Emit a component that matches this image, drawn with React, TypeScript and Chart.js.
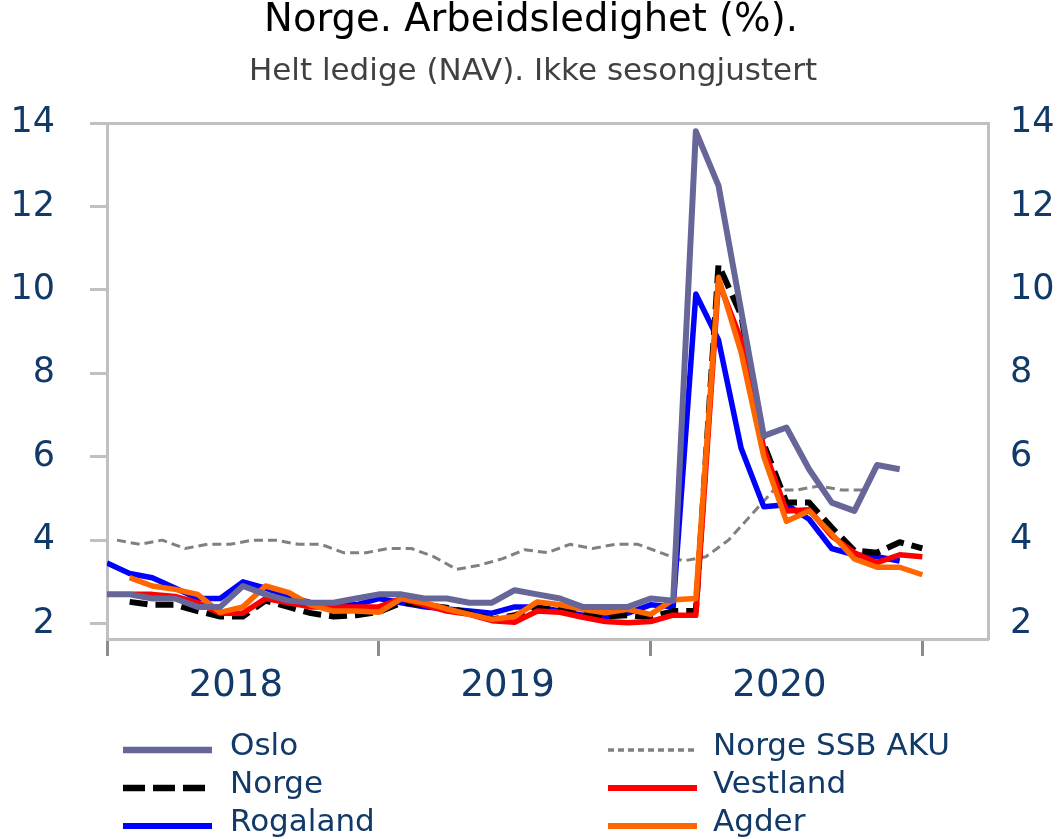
import React, { useEffect, useRef } from 'react';
import { Chart, registerables } from 'chart.js';

Chart.register(...registerables);

// ---------- texts ----------
const titleText = 'Norge. Arbeidsledighet (%).';
const subtitleText = 'Helt ledige (NAV). Ikke sesongjustert';

// ---------- axes ----------
const yearLabels = ['2018', '2019', '2020'];
const yearBoundaries = [0, 12, 24, 36]; // month index (0 = start of Jan 2018)
const yTicks = [2, 4, 6, 8, 10, 12, 14];
const yMin = 1.63;
const yMax = 14;
const xMin = 0;
const xMax = 38.9;

// ---------- series (monthly values) ----------
const osloStart = 0;
const oslo = [
  2.7, 2.7, 2.6, 2.6, 2.4, 2.4, 2.9, 2.7, 2.55, 2.5, 2.5, 2.6,
  2.7, 2.7, 2.6, 2.6, 2.5, 2.5, 2.8, 2.7, 2.6, 2.4, 2.4, 2.4,
  2.6, 2.55, 13.8, 12.5, 9.5, 6.5, 6.7, 5.7, 4.9, 4.7, 5.8, 5.7,
];

const rogalandStart = 0;
const rogaland = [
  3.45, 3.2, 3.1, 2.85, 2.6, 2.6, 3.0, 2.85, 2.65, 2.5, 2.45, 2.45,
  2.6, 2.5, 2.4, 2.35, 2.3, 2.25, 2.4, 2.4, 2.3, 2.2, 2.15, 2.25,
  2.45, 2.4, 9.9, 8.8, 6.2, 4.8, 4.85, 4.5, 3.8, 3.65, 3.6, 3.5,
];

const norgeStart = 1;
const norge = [
  2.52, 2.45, 2.45, 2.3, 2.17, 2.17, 2.55, 2.4, 2.25, 2.17, 2.2, 2.28,
  2.5, 2.45, 2.38, 2.25, 2.1, 2.2, 2.36, 2.34, 2.22, 2.17, 2.2, 2.15,
  2.3, 2.3, 10.6, 9.4, 6.3, 4.9, 4.9, 4.3, 3.75, 3.7, 3.95, 3.8,
];

const vestlandStart = 1;
const vestland = [
  2.7, 2.7, 2.65, 2.5, 2.25, 2.25, 2.6, 2.5, 2.4, 2.4, 2.4, 2.4,
  2.6, 2.45, 2.3, 2.22, 2.07, 2.03, 2.3, 2.27, 2.15, 2.05, 2.02, 2.05,
  2.2, 2.2, 10.2, 8.8, 6.2, 4.7, 4.73, 4.1, 3.7, 3.46, 3.65, 3.6,
];

const agderStart = 1;
const agder = [
  3.1, 2.9, 2.82, 2.7, 2.27, 2.4, 2.9, 2.75, 2.45, 2.3, 2.3, 2.27,
  2.6, 2.5, 2.35, 2.22, 2.1, 2.17, 2.52, 2.45, 2.34, 2.26, 2.34, 2.22,
  2.57, 2.6, 10.3, 8.5, 6.0, 4.45, 4.7, 4.15, 3.55, 3.35, 3.35, 3.17,
];

const akuStart = 0.44;
const aku = [
  4.0, 3.9, 4.0, 3.8, 3.9, 3.9, 4.0, 4.0, 3.9, 3.9, 3.7, 3.7,
  3.8, 3.8, 3.6, 3.3, 3.4, 3.55, 3.77, 3.7, 3.9, 3.8, 3.9, 3.9,
  3.7, 3.5, 3.6, 4.0, 4.6, 5.2, 5.2, 5.3, 5.2, 5.2,
];

const legendColumns = [
  ['Oslo', 'Norge', 'Rogaland'],
  ['Norge SSB AKU', 'Vestland', 'Agder'],
];

// ---------- styles ----------
const NAVY = '#123a68';
const FRAME = '#c0c0c0';
const FONT = '"DejaVu Sans", sans-serif';

const toPoints = (start: number, values: number[]) =>
  values.map((y, i) => ({ x: start + i, y }));

const yearMidpoints = yearBoundaries.slice(0, -1).map((b, i) => (b + yearBoundaries[i + 1]) / 2);
const xTickValues = [...yearBoundaries, ...yearMidpoints].sort((a, b) => a - b);

const baseLine = {
  pointRadius: 0,
  pointHoverRadius: 0,
  tension: 0,
  fill: false,
  borderJoinStyle: 'round' as const,
  borderCapStyle: 'butt' as const,
};

const datasets: any[] = [
  { ...baseLine, label: 'Oslo', data: toPoints(osloStart, oslo), borderColor: '#666699', borderWidth: 6, order: 0 },
  { ...baseLine, label: 'Norge', data: toPoints(norgeStart, norge), borderColor: '#000000', borderWidth: 6, borderDash: [18, 8], order: 3 },
  { ...baseLine, label: 'Rogaland', data: toPoints(rogalandStart, rogaland), borderColor: '#0000FF', borderWidth: 5.5, order: 4 },
  { ...baseLine, label: 'Norge SSB AKU', data: toPoints(akuStart, aku), borderColor: '#808080', borderWidth: 3, borderDash: [9, 5], order: 5 },
  { ...baseLine, label: 'Vestland', data: toPoints(vestlandStart, vestland), borderColor: '#FF0000', borderWidth: 5.5, order: 2 },
  { ...baseLine, label: 'Agder', data: toPoints(agderStart, agder), borderColor: '#FF6600', borderWidth: 5.5, order: 1 },
];

const textPlugin = {
  id: 'textPlugin',
  afterDraw(chart: any) {
    const ctx = chart.ctx as CanvasRenderingContext2D;
    ctx.save();
    ctx.textAlign = 'center';
    ctx.textBaseline = 'middle';
    ctx.fillStyle = '#000000';
    ctx.font = `38.5px ${FONT}`;
    ctx.fillText(titleText, 531, 21);
    ctx.fillStyle = '#404040';
    ctx.font = `31px ${FONT}`;
    ctx.fillText(subtitleText, 533, 72);

    // legend (column-major, 2 columns x 3 rows)
    const colSampleX = [123, 608];
    const colTextX = [230, 713];
    const rowY = [747, 785, 823];
    const sampleLen = 89;
    ctx.font = `31px ${FONT}`;
    ctx.textAlign = 'left';
    legendColumns.forEach((col, ci) => {
      col.forEach((label, ri) => {
        const ds = chart.data.datasets.find((d: any) => d.label === label);
        if (!ds) return;
        const y = rowY[ri];
        ctx.save();
        ctx.strokeStyle = ds.borderColor;
        ctx.lineWidth = ds.borderWidth + 0.5;
        ctx.lineCap = 'butt';
        ctx.setLineDash(label === 'Norge SSB AKU' ? [6, 4] : label === 'Norge' ? [22, 8] : []);
        ctx.beginPath();
        ctx.moveTo(colSampleX[ci], y + 3);
        ctx.lineTo(colSampleX[ci] + sampleLen, y + 3);
        ctx.stroke();
        ctx.restore();
        ctx.fillStyle = NAVY;
        ctx.fillText(label, colTextX[ci], y);
      });
    });
    ctx.restore();
  },
};

export default function App() {
  const ref = useRef<HTMLCanvasElement>(null);

  useEffect(() => {
    const canvas = ref.current;
    if (!canvas) return;
    const chart = new Chart(canvas, {
      type: 'line',
      data: { datasets },
      options: {
        animation: false,
        responsive: false,
        maintainAspectRatio: false,
        devicePixelRatio: 1,
        layout: { padding: { top: 123, left: 0, right: 0, bottom: 0 } },
        plugins: {
          legend: { display: false },
          tooltip: { enabled: false },
          title: { display: false },
        },
        scales: {
          x: {
            type: 'linear',
            min: xMin,
            max: xMax,
            afterBuildTicks: (s: any) => {
              s.ticks = xTickValues.map((v) => ({ value: v }));
            },
            afterFit: (s: any) => {
              s.height = 200;
            },
            grid: {
              display: true,
              drawOnChartArea: false,
              drawTicks: true,
              tickLength: 17,
              tickWidth: 3,
              tickColor: (c: any) =>
                c.tick && yearBoundaries.includes(c.tick.value) ? '#8c8c8c' : 'rgba(0,0,0,0)',
            },
            border: { display: true, color: FRAME, width: 3 },
            ticks: {
              autoSkip: false,
              maxRotation: 0,
              minRotation: 0,
              padding: 8,
              labelOffset: -7,
              color: NAVY,
              font: { family: FONT, size: 37 },
              callback: (v: any) => {
                const i = yearMidpoints.indexOf(Number(v));
                return i >= 0 ? yearLabels[i] : '';
              },
            },
          },
          y: {
            type: 'linear',
            position: 'left',
            min: yMin,
            max: yMax,
            afterBuildTicks: (s: any) => {
              s.ticks = yTicks.map((v) => ({ value: v }));
            },
            afterFit: (s: any) => {
              s.width = 107;
            },
            grid: {
              display: true,
              drawOnChartArea: true,
              color: (c: any) => (c.tick && c.tick.value === yMax ? FRAME : 'rgba(0,0,0,0)'),
              lineWidth: 3,
              drawTicks: true,
              tickLength: 17,
              tickWidth: 3,
              tickColor: FRAME,
            },
            border: { display: true, color: FRAME, width: 3 },
            ticks: {
              padding: 35,
              color: NAVY,
              font: { family: FONT, size: 35 },
            },
          },
          y2: {
            type: 'linear',
            position: 'right',
            min: yMin,
            max: yMax,
            afterBuildTicks: (s: any) => {
              s.ticks = yTicks.map((v) => ({ value: v }));
            },
            afterFit: (s: any) => {
              s.width = 70;
            },
            grid: { display: true, drawOnChartArea: false, drawTicks: false },
            border: { display: true, color: FRAME, width: 3 },
            ticks: {
              padding: 22,
              color: NAVY,
              font: { family: FONT, size: 35 },
            },
          },
        },
      },
      plugins: [textPlugin],
    } as any);
    return () => chart.destroy();
  }, []);

  return (
    <div style={{ position: 'absolute', left: 0, top: 0, width: 1058, height: 839, background: '#ffffff' }}>
      <canvas ref={ref} width={1058} height={839} style={{ display: 'block', width: 1058, height: 839 }} />
    </div>
  );
}
